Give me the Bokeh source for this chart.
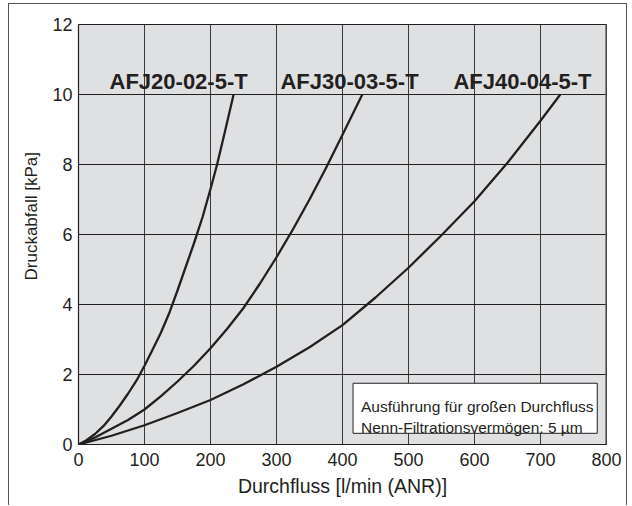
from bokeh.plotting import figure
from bokeh.models import Label, BoxAnnotation, Span, SingleIntervalTicker, Title
from bokeh.layouts import column
from bokeh.embed import file_html
from bokeh.resources import INLINE

# ---- data ----
x_afj20 = [0, 12, 25, 38, 50, 62, 75, 88, 100, 112, 125, 138, 150, 162, 175, 188, 200, 210, 222, 235]
y_afj20 = [0, 0.12, 0.3, 0.53, 0.8, 1.1, 1.45, 1.83, 2.25, 2.7, 3.2, 3.78, 4.4, 5.05, 5.75, 6.5, 7.3, 8.0, 8.95, 10]

x_afj30 = [0, 25, 50, 75, 100, 125, 150, 175, 200, 225, 250, 275, 300, 325, 350, 375, 400, 430]
y_afj30 = [0, 0.2, 0.45, 0.7, 1.0, 1.38, 1.8, 2.25, 2.75, 3.3, 3.9, 4.6, 5.35, 6.15, 7.0, 7.9, 8.85, 10]

x_afj40 = [0, 50, 100, 150, 200, 250, 300, 350, 400, 450, 500, 550, 600, 650, 700, 730]
y_afj40 = [0, 0.25, 0.55, 0.9, 1.27, 1.72, 2.22, 2.78, 3.41, 4.2, 5.05, 5.98, 6.95, 8.05, 9.25, 10]

series_names = ["AFJ20-02-5-T", "AFJ30-03-5-T", "AFJ40-04-5-T"]
name_x = [47, 306, 568]
name_y = [10.38, 10.38, 10.38]

x_label = "Durchfluss [l/min (ANR)]"
y_label = "Druckabfall [kPa]"
note_lines = ["Ausführung für großen Durchfluss", "Nenn-Filtrationsvermögen: 5 µm"]

INK = "#231f20"

p = figure(width=617, height=501, x_range=(0, 800), y_range=(0, 12),
           output_backend="svg", toolbar_location=None,
           min_border_left=69, min_border_right=20, min_border_top=20, min_border_bottom=61)

p.background_fill_color = "#dfe0e2"
p.border_fill_color = "white"
p.outline_line_color = INK
p.outline_line_width = 1

p.xaxis.ticker = SingleIntervalTicker(interval=100)
p.yaxis.ticker = SingleIntervalTicker(interval=2)
for ax in (p.xaxis, p.yaxis):
    ax.major_tick_in = 0
    ax.major_tick_out = 0
    ax.minor_tick_in = 0
    ax.minor_tick_out = 0
    ax.axis_line_color = INK
    ax.axis_line_width = 1.2
    ax.major_label_text_font = "Liberation Sans"
    ax.major_label_text_font_size = "18px"
    ax.major_label_text_color = INK
p.xaxis.major_label_standoff = 8
p.yaxis.major_label_standoff = 6

p.xaxis.axis_label = x_label
p.xaxis.axis_label_text_font = "Liberation Sans"
p.xaxis.axis_label_text_font_size = "19.5px"
p.xaxis.axis_label_text_font_style = "normal"
p.xaxis.axis_label_text_color = INK
p.xaxis.axis_label_standoff = 6

# y axis title, placed in the left panel
p.add_layout(Title(text=y_label, align="left", offset=164,
                   text_font="Liberation Sans", text_font_size="17px",
                   text_font_style="normal", text_color=INK, standoff=18), "left")

p.xgrid.grid_line_color = "#3a3a3a"
p.xgrid.grid_line_width = 1
p.ygrid.grid_line_color = INK
p.ygrid.grid_line_width = 1

# right frame edge drawn heavier/gray as in the reference
p.add_layout(Span(location=800, dimension="height", line_color="#6d6d6d", line_width=2.5))

for xs, ys in ((x_afj20, y_afj20), (x_afj30, y_afj30), (x_afj40, y_afj40)):
    p.line(xs, ys, line_color=INK, line_width=2.3, line_join="round")

for name, nx, ny in zip(series_names, name_x, name_y):
    p.add_layout(Label(x=nx, y=ny, text=name, text_font="Liberation Sans",
                       text_font_size="22px", text_font_style="bold", text_color=INK,
                       text_baseline="alphabetic", text_align="left"))

# note box
p.add_layout(BoxAnnotation(left=416, right=786, bottom=0.32, top=1.75,
                           fill_color="white", fill_alpha=1.0,
                           line_color=INK, line_width=1, line_alpha=1.0))
for line, ly in zip(note_lines, [1.094, 0.50]):
    p.add_layout(Label(x=428, y=ly, text=line,
                       text_font="Liberation Sans",
                       text_font_size="15.5px", text_color=INK,
                       text_baseline="alphabetic", text_align="left"))

page = column(p, margin=(3, 0, 0, 8),
              styles={"border-top": "1.5px solid #555", "border-left": "1.5px solid #555",
                      "border-right": "1.5px solid #555"})

open("out.html", "w").write(file_html(page, INLINE))
